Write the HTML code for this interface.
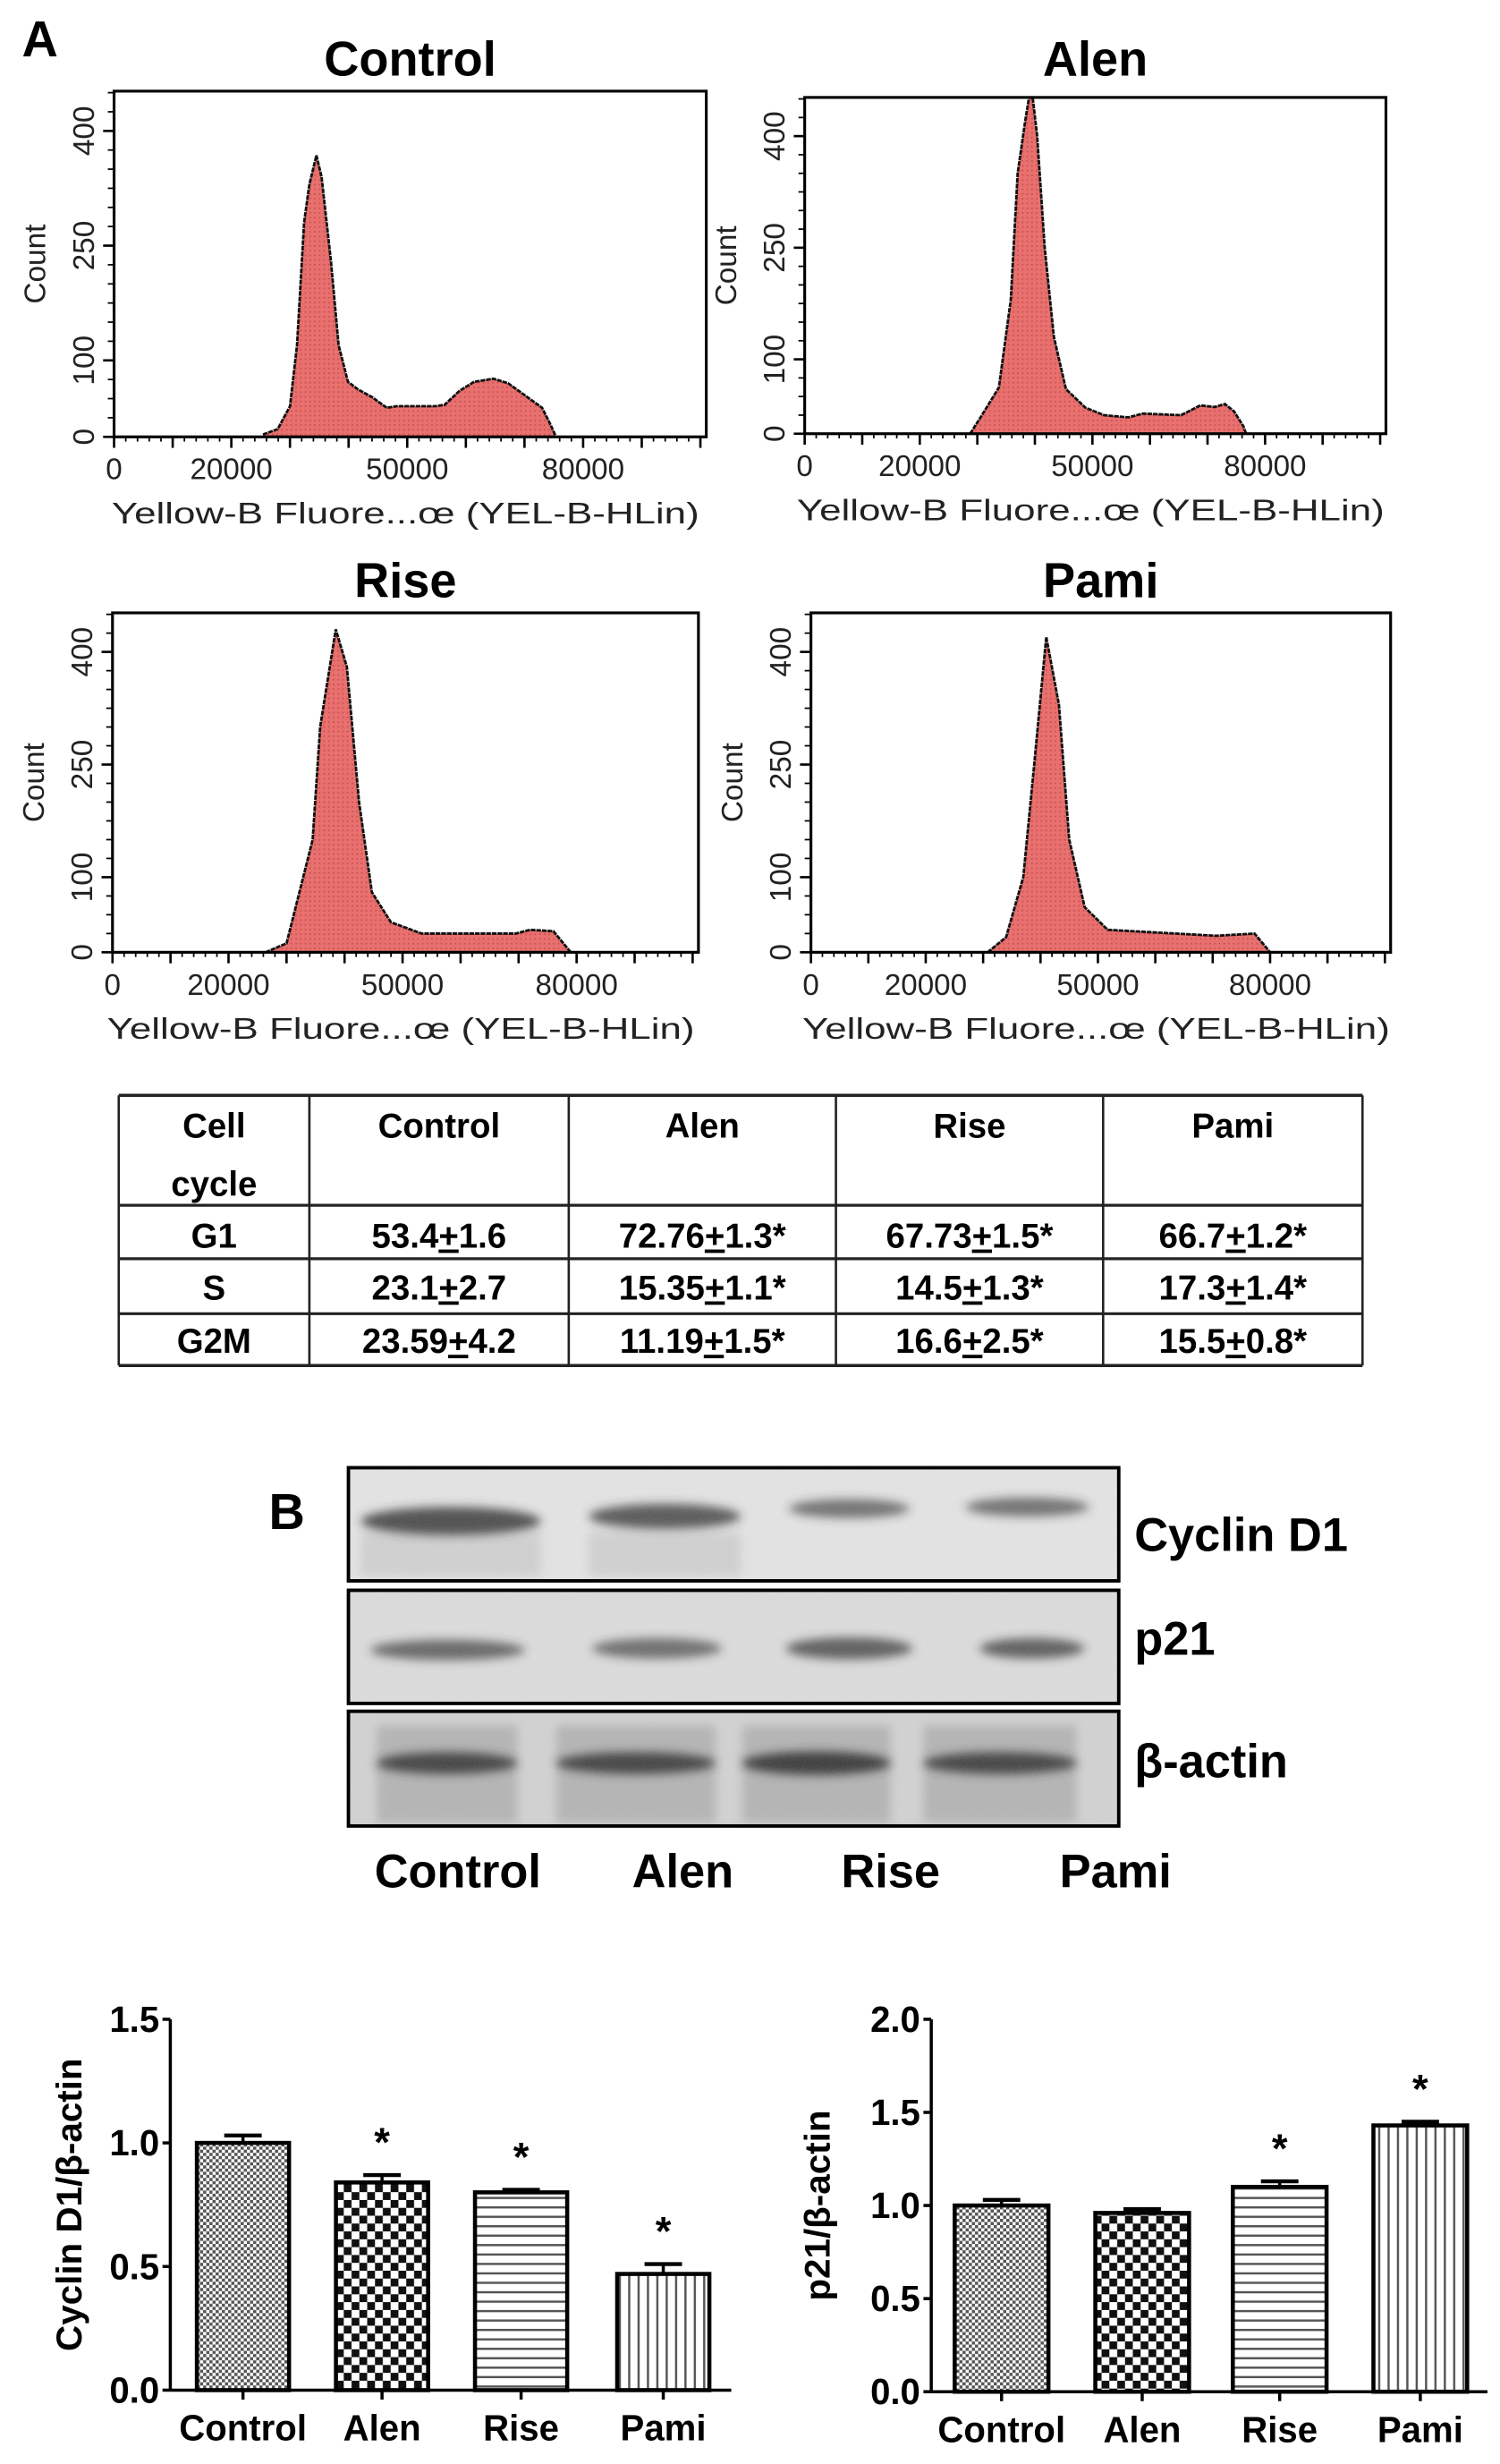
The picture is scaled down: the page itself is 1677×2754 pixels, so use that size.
<!DOCTYPE html>
<html><head><meta charset="utf-8"><style>
html,body{margin:0;padding:0;background:#fff;}
svg{display:block;}
text{font-family:"Liberation Sans",Arial,sans-serif;}
</style></head><body>
<svg id="fig" xmlns="http://www.w3.org/2000/svg" width="1677" height="2754" viewBox="0 0 960 1568" preserveAspectRatio="none">
<defs>
<pattern id="histFill" patternUnits="userSpaceOnUse" width="3" height="3"><rect width="3" height="3" fill="#e8706e"/><rect width="1" height="1" fill="#c95050"/></pattern>
<pattern id="pCtrl" patternUnits="userSpaceOnUse" width="4" height="4"><rect width="4" height="4" fill="#fff"/><rect width="2" height="2" fill="#555"/><rect x="2" y="2" width="2" height="2" fill="#555"/></pattern>
<pattern id="pAlen" patternUnits="userSpaceOnUse" width="10" height="10"><rect width="10" height="10" fill="#fff"/><rect width="5" height="5" fill="#111"/><rect x="5" y="5" width="5" height="5" fill="#111"/></pattern>
<pattern id="pRise" patternUnits="userSpaceOnUse" width="6" height="6"><rect width="6" height="6" fill="#fff"/><rect width="6" height="1.4" fill="#555"/></pattern>
<pattern id="pPami" patternUnits="userSpaceOnUse" width="6" height="6"><rect width="6" height="6" fill="#fff"/><rect width="1.4" height="6" fill="#555"/></pattern>
<filter id="blur3" x="-20%" y="-50%" width="140%" height="200%"><feGaussianBlur stdDeviation="3"/></filter>
<filter id="noise" x="0" y="0" width="1" height="1" filterUnits="objectBoundingBox"><feTurbulence type="fractalNoise" baseFrequency="0.9" numOctaves="2" seed="3"/><feColorMatrix type="matrix" values="0 0 0 0 0.5  0 0 0 0 0.5  0 0 0 0 0.5  0 0 0 0.35 0"/></filter>
<clipPath id="cp0"><rect x="223" y="934" width="493" height="72"/></clipPath>
<clipPath id="cp1"><rect x="223" y="1012" width="493" height="72"/></clipPath>
<clipPath id="cp2"><rect x="223" y="1089" width="493" height="73"/></clipPath>
</defs>

<text x="14" y="36" font-size="32" font-weight="bold">A</text>
<g id="hists"></g>

<g id="table" font-weight="bold" font-size="22" text-anchor="middle"></g>

<text x="172" y="973" font-size="32" font-weight="bold">B</text>
<g id="blot"></g>

<g id="bars1"></g>
<g id="bars2"></g>
</svg>
<script>
// ---------- Histogram data (fluorescence, count) ----------
const ctrlX = [25400,27900,30000,31200,32400,33300,34500,35400,37000,38300,39900,41600,44000,46500,48200,54800,56400,58900,61400,64700,67200,70500,73000,74200,75400];
const ctrlY = [3,10,40,120,280,330,368,340,230,120,72,62,52,38,40,40,42,60,72,76,70,52,38,20,0];
const alenX = [28750,30400,33750,35800,37000,38300,39000,39600,40400,41700,43300,45400,48750,52000,56250,58750,65400,68750,71250,73000,74600,76250,76700];
const alenY = [0,20,62,180,350,420,470,470,400,250,130,60,35,25,22,27,25,38,36,40,30,10,0];
const riseX = [26400,30000,34500,35800,38500,40400,42500,44700,48000,53300,69500,72000,76000,79000];
const riseY = [0,12,150,300,430,380,200,80,40,25,25,30,28,0];
const pamiX = [30800,34000,37000,38900,41000,43200,45000,47700,51700,70600,77300,80000];
const pamiY = [0,20,100,250,420,330,150,60,30,22,25,0];
const histXTicks = [0,20000,50000,80000];
const histYTicks = [0,100,250,400];

// ---------- Table ----------
const tblHead = ["Control","Alen","Rise","Pami"];
const tblRows = ["G1","S","G2M"];
const tblVals = [
 [["53.4","1.6",""],["72.76","1.3","*"],["67.73","1.5","*"],["66.7","1.2","*"]],
 [["23.1","2.7",""],["15.35","1.1","*"],["14.5","1.3","*"],["17.3","1.4","*"]],
 [["23.59","4.2",""],["11.19","1.5","*"],["16.6","2.5","*"],["15.5","0.8","*"]]
];

// ---------- Bar chart data ----------
const barCats = ["Control","Alen","Rise","Pami"];
const cycVals = [1.0,0.84,0.80,0.47];
const cycErr = [0.03,0.03,0.01,0.04];
const cycSig = [false,true,true,true];
const cycTicks = [0.0,0.5,1.0,1.5];
const p21Vals = [1.0,0.96,1.10,1.43];
const p21Err = [0.03,0.02,0.03,0.02];
const p21Sig = [false,false,true,true];
const p21Ticks = [0.0,0.5,1.0,1.5,2.0];

const NS="http://www.w3.org/2000/svg";
function mk(tag, attrs, parent){const e=document.createElementNS(NS,tag);for(const k in attrs)e.setAttribute(k,attrs[k]);if(parent)parent.appendChild(e);return e;}

// ---------- Histograms ----------
const hists=[
 {title:"Control",xs:ctrlX,ys:ctrlY,x0:73,x1:452,y0:58,y1:278,ty:48,name:"control"},
 {title:"Alen",xs:alenX,ys:alenY,x0:515,x1:887,y0:62,y1:276,ty:48,name:"alen"},
 {title:"Rise",xs:riseX,ys:riseY,x0:72,x1:447,y0:390,y1:606,ty:380,name:"rise"},
 {title:"Pami",xs:pamiX,ys:pamiY,x0:519,x1:890,y0:390,y1:606,ty:380,name:"pami"}
];
const XMAX=101000, YMAX=452;
const hg=document.getElementById('hists');
hists.forEach(h=>{
  const g=mk('g',{},hg);
  
  
  const sx=v=>h.x0+v/XMAX*(h.x1-h.x0);
  const sy=c=>Math.max(h.y0,h.y1-c/YMAX*(h.y1-h.y0));
  const t=mk('text',{x:(h.x0+h.x1)/2,y:h.ty,'font-size':31,'font-weight':'bold','text-anchor':'middle'},g);
  t.textContent=h.title;
  
  
  let pts=[];
  for(let i=0;i<h.xs.length;i++){pts.push(sx(h.xs[i]).toFixed(1)+','+sy(h.ys[i]).toFixed(1));}
  const area=mk('polygon',{points:sx(h.xs[0])+','+h.y1+' '+pts.join(' ')+' '+sx(h.xs[h.xs.length-1])+','+h.y1,fill:'url(#histFill)',stroke:'none'},g);
  
  
  const ln=mk('polyline',{points:pts.join(' '),fill:'none',stroke:'#111','stroke-width':1.6,'stroke-dasharray':'3 0.6'},g);
  
  
  const box=mk('rect',{x:h.x0,y:h.y0,width:h.x1-h.x0,height:h.y1-h.y0,fill:'none',stroke:'#000','stroke-width':1.8},g);
  
  
  for(let v=0;v<=100000;v+=2000){const x=sx(v);const major=v%10000===0;mk('line',{x1:x,x2:x,y1:h.y1,y2:h.y1+(major?7:3),stroke:'#000','stroke-width':major?1.5:1},g);}
  histXTicks.forEach(v=>{const tt=mk('text',{x:sx(v),y:h.y1+27,'font-size':19,'font-family':'DejaVu Sans, sans-serif','text-anchor':'middle',fill:'#222'},g);tt.textContent=String(v);
    
    });
  for(let c=0;c<=450;c+=25){const y=h.y1-c/YMAX*(h.y1-h.y0);const major=histYTicks.includes(c);mk('line',{x1:h.x0,x2:h.x0-(major?7:4),y1:y,y2:y,stroke:'#000','stroke-width':major?1.5:1},g);}
  histYTicks.forEach(c=>{const y=sy(c);const tt=mk('text',{x:0,y:0,'font-size':19,'font-family':'DejaVu Sans, sans-serif','text-anchor':'middle',fill:'#222',transform:'translate('+(h.x0-13)+','+y+') rotate(-90)'},g);tt.textContent=String(c);
    
    });
  const ct=mk('text',{x:0,y:0,'font-size':19,'font-family':'DejaVu Sans, sans-serif','text-anchor':'middle',fill:'#222',transform:'translate('+(h.x0-44)+','+((h.y0+h.y1)/2)+') rotate(-90)'},g);
  ct.textContent='Count';
  
  
  const xl=mk('text',{x:(h.x0+h.x1)/2-3,y:h.y1+55,'font-size':19,'font-family':'DejaVu Sans, sans-serif','text-anchor':'middle',fill:'#222',textLength:376,lengthAdjust:'spacingAndGlyphs'},g);
  xl.textContent='Yellow-B Fluore...œ (YEL-B-HLin)';
  
  
});

// ---------- Table ----------
(function(){
  const tg=document.getElementById('table');
  const cols=[76,198,364,535,706,872];
  const rows=[697,767,801,836,869];
  rows.forEach((y,i)=>{mk('line',{x1:76,x2:872,y1:y,y2:y,stroke:'#222','stroke-width':(i===0||i===4)?2:1.8},tg);});
  cols.forEach(x=>{mk('line',{x1:x,x2:x,y1:697,y2:869,stroke:'#222','stroke-width':1.5},tg);});
  const mid=i=>(cols[i]+cols[i+1])/2;
  let t=mk('text',{x:mid(0),y:724},tg);t.textContent='Cell';
  t=mk('text',{x:mid(0),y:761},tg);t.textContent='cycle';
  tblHead.forEach((h,i)=>{const e=mk('text',{x:mid(i+1),y:724},tg);e.textContent=h;
    
    });
  const ry=[794,827,861];
  tblRows.forEach((r,i)=>{
    const e=mk('text',{x:mid(0),y:ry[i]},tg);e.textContent=r;
    
    
    tblVals[i].forEach((v,j)=>{
      const c=mk('text',{x:mid(j+1),y:ry[i]},tg);
      
      
      const a=mk('tspan',{},c);a.textContent=v[0];
      const b=mk('tspan',{'text-decoration':'underline'},c);b.textContent='+';
      const d=mk('tspan',{},c);d.textContent=v[1]+v[2];
    });
  });
})();

// ---------- Western blot ----------
(function(){
  const bg=document.getElementById('blot');
  const X0=223,X1=716;
  const panels=[{y0:934,y1:1006,bg:'#e6e6e6',label:'Cyclin D1',name:'cyclin-d1-blot',ly:987},{y0:1012,y1:1084,bg:'#dedede',label:'p21',name:'p21-blot',ly:1053},{y0:1089,y1:1162,bg:'#d4d4d4',label:'β-actin',name:'beta-actin-blot',ly:1131}];
  const bands=[
   [[231,346,968,14,0.85],[377,474,965,12,0.8],[505,582,960,8,0.65],[618,697,959,8,0.65]],
   [[237,336,1050,9,0.7],[379,462,1049,9,0.65],[503,584,1049,10,0.75],[627,694,1049,9,0.75]],
   [[241,331,1122,10,0.9],[356,458,1122,10,0.9],[475,570,1122,11,0.95],[591,689,1122,10,0.9]]
  ];
  panels.forEach((p,i)=>{
    const g=mk('g',{},bg);
    
    
    const inner=mk('g',{'clip-path':'url(#cp'+i+')'},g);
    mk('rect',{x:X0,y:p.y0,width:X1-X0,height:p.y1-p.y0,fill:p.bg},inner);
    if(i===2){
      bands[2].forEach(b=>{mk('rect',{x:b[0],y:1098,width:b[1]-b[0],height:62,fill:'#b5b5b5',filter:'url(#blur3)'},inner);});
    }
    if(i===0){
      bands[0].slice(0,2).forEach(b=>{mk('rect',{x:b[0],y:975,width:b[1]-b[0],height:28,fill:'#d2d2d2',filter:'url(#blur3)'},inner);});
    }
    bands[i].forEach(b=>{
      mk('ellipse',{cx:(b[0]+b[1])/2,cy:b[2],rx:(b[1]-b[0])/2,ry:b[3]/2+2,fill:'#333','fill-opacity':b[4],filter:'url(#blur3)'},inner);
    });
    mk('rect',{x:X0,y:p.y0,width:X1-X0,height:p.y1-p.y0,filter:'url(#noise)',opacity:0.5},inner);
    mk('rect',{x:X0,y:p.y0,width:X1-X0,height:p.y1-p.y0,fill:'none',stroke:'#000','stroke-width':2.2},g);
    const lb=mk('text',{x:726,y:p.ly,'font-size':30,'font-weight':'bold'},g);
    lb.textContent=p.label;
    
    
  });
  const lx=[293,437,570,714];
  barCats.forEach((c,i)=>{const t=mk('text',{x:lx[i],y:1201,'font-size':30,'font-weight':'bold','text-anchor':'middle'},bg);t.textContent=c;
    
    });
})();

// ---------- Bar charts ----------
function barChart(gid,cfg,vals,errs,sig,ticks,title){
  const g=document.getElementById(gid);
  const sy=v=>cfg.y0-v/cfg.vmax*(cfg.y0-cfg.yTop);
  const fills=['url(#pCtrl)','url(#pAlen)','url(#pRise)','url(#pPami)'];
  mk('line',{x1:cfg.ax,x2:cfg.ax,y1:cfg.yTop,y2:cfg.y0,stroke:'#000','stroke-width':2},g);
  mk('line',{x1:cfg.ax,x2:cfg.axEnd,y1:cfg.y0,y2:cfg.y0,stroke:'#000','stroke-width':2},g);
  ticks.forEach(t=>{const y=sy(t);mk('line',{x1:cfg.ax-5,x2:cfg.ax,y1:y,y2:y,stroke:'#000','stroke-width':2},g);
    const tt=mk('text',{x:cfg.ax-7,y:y+8,'font-size':23,'font-weight':'bold','text-anchor':'end'},g);tt.textContent=t.toFixed(1);
    
    });
  vals.forEach((v,i)=>{
    const x0=cfg.bx[i],x1=x0+cfg.bw,cx=(x0+x1)/2;
    const top=sy(v),et=sy(v+errs[i]);
    mk('line',{x1:cx,x2:cx,y1:top,y2:et,stroke:'#000','stroke-width':2},g);
    mk('line',{x1:cx-12,x2:cx+12,y1:et,y2:et,stroke:'#000','stroke-width':2.5},g);
    const r=mk('rect',{x:x0,y:top,width:cfg.bw,height:cfg.y0-top,fill:fills[i],stroke:'#000','stroke-width':2.6},g);
    
    
    mk('line',{x1:cx,x2:cx,y1:cfg.y0,y2:cfg.y0+6,stroke:'#000','stroke-width':2},g);
    const cl=mk('text',{x:cx,y:cfg.y0+32,'font-size':23,'font-weight':'bold','text-anchor':'middle'},g);cl.textContent=barCats[i];
    
    
    if(sig[i]){const s=mk('text',{x:cx,y:et-12,'font-size':26,'font-weight':'bold','text-anchor':'middle'},g);s.textContent='*';
      
      }
  });
  const yt=mk('text',{x:0,y:0,'font-size':23,'font-weight':'bold','text-anchor':'middle',transform:'translate('+cfg.tx+','+((cfg.y0+cfg.yTop)/2)+') rotate(-90)'},g);
  yt.textContent=title;
  
  
}
barChart('bars1',{ax:109,axEnd:468,y0:1521,yTop:1285,vmax:1.5,bx:[126,215,304,395],bw:59,tx:52},cycVals,cycErr,cycSig,cycTicks,'Cyclin D1/β-actin');
barChart('bars2',{ax:596,axEnd:952,y0:1522,yTop:1285,vmax:2.0,bx:[611,701,789,879],bw:60,tx:531},p21Vals,p21Err,p21Sig,p21Ticks,'p21/β-actin');
</script>
</body></html>
